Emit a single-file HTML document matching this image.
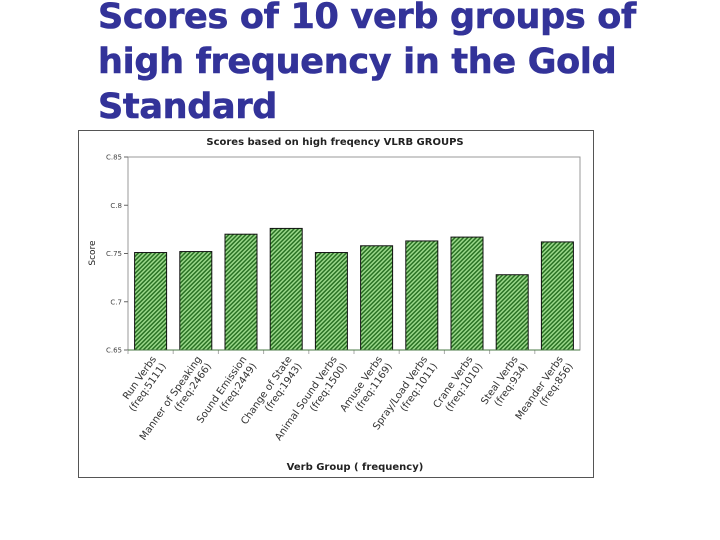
<!DOCTYPE html>
<html><head><meta charset="utf-8"><style>
body{margin:0;width:720px;height:540px;background:#fff;overflow:hidden;position:relative}
#h{position:absolute;left:98px;top:-5px;margin:0;font:bold 35px/45px "DejaVu Sans","Liberation Sans",sans-serif;color:#333399;letter-spacing:-0.3px;-webkit-text-stroke:0.6px #333399}
svg{position:absolute;left:0;top:0}
</style></head><body>
<h1 id="h">Scores of 10 verb groups of<br>high frequency in the Gold<br>Standard</h1>
<svg id="c" width="720" height="540" font-family="DejaVu Sans, Liberation Sans, sans-serif">
<defs><pattern id="hatch" width="3" height="3" patternUnits="userSpaceOnUse" patternTransform="rotate(45)">
<rect width="3" height="3" fill="#9ad88a"/><rect width="1.5" height="3" fill="#2a7224"/></pattern></defs>
</svg>
<script>
const categories=["Run Verbs","Manner of Speaking","Sound Emission","Change of State","Animal Sound Verbs","Amuse Verbs","Spray/Load Verbs","Crane Verbs","Steal Verbs","Meander Verbs"];
const freqs=["(freq:5111)","(freq:2466)","(freq:2449)","(freq:1943)","(freq:1500)","(freq:1169)","(freq:1011)","(freq:1010)","(freq:934)","(freq:856)"];
const scores=[0.751,0.752,0.770,0.776,0.751,0.758,0.763,0.767,0.728,0.762];
const ticks=[0.65,0.7,0.75,0.8,0.85];
const tickLabels=["C.65","C.7","C.75","C.8","C.85"];
const svg=document.getElementById('c');const NS='http://www.w3.org/2000/svg';
function mk(t,a,p){const e=document.createElementNS(NS,t);for(const k in a)e.setAttribute(k,a[k]);(p||svg).appendChild(e);return e;}
const L=128,R=580,T=157,B=350,ymin=0.65,ymax=0.85;
const y=v=>B-(v-ymin)/(ymax-ymin)*(B-T);
const band=(R-L)/categories.length;const x=i=>L+band*(i+0.5);
let f=mk('rect',{x:78.5,y:130.5,width:515,height:347,fill:'#fff',stroke:'#555'});

let t=mk('text',{x:335,y:145,'text-anchor':'middle','font-size':10,'font-weight':'bold',fill:'#222'});t.textContent='Scores based on high freqency VLRB GROUPS';

let pa=mk('rect',{x:L,y:T,width:R-L,height:B-T,fill:'#fff',stroke:'#999'});

ticks.forEach((v,i)=>{mk('line',{x1:L-4,x2:L,y1:y(v),y2:y(v),stroke:'#666'});
let l=mk('text',{x:L-6,y:y(v)+2.5,'text-anchor':'end','font-size':7,fill:'#444'});l.textContent=tickLabels[i];
});
let yt=mk('text',{x:0,y:0,transform:'translate(95,253) rotate(-90)','text-anchor':'middle','font-size':9,fill:'#222'});yt.textContent='Score';

scores.forEach((v,i)=>{const bx=x(i)-16;
let r=mk('rect',{x:bx,y:y(v),width:32,height:B-y(v),fill:'url(#hatch)',stroke:'#111','stroke-width':1});

mk('line',{x1:x(i)-band/2,x2:x(i)-band/2,y1:B,y2:B+4,stroke:'#aaa'});
let g=mk('text',{transform:`translate(${x(i)+6},${B+9}) rotate(-55)`,'text-anchor':'end','font-size':10,fill:'#333'});
let a=mk('tspan',{x:0,dy:0},g);a.textContent=categories[i];
let b=mk('tspan',{x:0,dy:12},g);b.textContent=freqs[i];
});
mk('line',{x1:L,x2:R,y1:B,y2:B,stroke:'#4a7a44'});
let xt=mk('text',{x:355,y:470,'text-anchor':'middle','font-size':10,'font-weight':'bold',fill:'#222'});xt.textContent='Verb Group ( frequency)';

</script>
</body></html>
